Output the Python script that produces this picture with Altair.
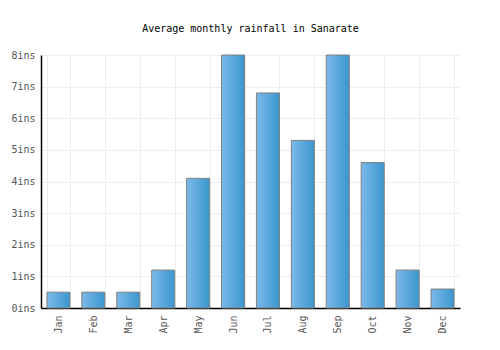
import altair as alt
import pandas as pd

months = ["Jan", "Feb", "Mar", "Apr", "May", "Jun", "Jul", "Aug", "Sep", "Oct", "Nov", "Dec"]
rainfall = [0.5, 0.5, 0.5, 1.2, 4.1, 8.0, 6.8, 5.3, 8.0, 4.6, 1.2, 0.6]

df = pd.DataFrame({"month": months, "rain": rainfall})

FONT = "DejaVu Sans Mono"

chart = alt.Chart(df).mark_bar(
    stroke="#808080",
    strokeWidth=1,
    fill=alt.Gradient(
        gradient="linear",
        stops=[alt.GradientStop(color="#7cb9ea", offset=0),
               alt.GradientStop(color="#3a96ce", offset=1)],
        x1=0, x2=1, y1=0, y2=0,
    ),
).encode(
    x=alt.X("month:N", sort=months, title=None,
            scale=alt.Scale(paddingInner=0.34, paddingOuter=0.17),
            axis=alt.Axis(labelAngle=-90, labelAlign="right", labelBaseline="middle",
                          labelPadding=7, ticks=False, domainColor="#000000",
                          domainWidth=1.5, grid=True, gridColor="#eeeeee",
                          tickBand="extent", labelFont=FONT, labelFontSize=10,
                          labelColor="#555555")),
    y=alt.Y("rain:Q", title=None,
            scale=alt.Scale(domain=[0, 8], nice=False),
            axis=alt.Axis(values=[0, 1, 2, 3, 4, 5, 6, 7, 8], labelExpr="datum.value + 'ins'",
                          ticks=False, labelPadding=6, domainColor="#000000", domainWidth=1.5,
                          gridColor="#eeeeee", labelFont=FONT, labelFontSize=10,
                          labelColor="#555555")),
).properties(
    width=419,
    height=253,
    title=alt.TitleParams("Average monthly rainfall in Sanarate", font=FONT, fontSize=10,
                          fontWeight="normal", color="#000000", offset=16, anchor="middle"),
    autosize=alt.AutoSizeParams(type="none"),
    padding={"left": 41, "top": 55, "right": 40, "bottom": 42},
).configure_view(stroke=None)

chart.save("out.html", embed_options={"renderer": "svg", "actions": False})
